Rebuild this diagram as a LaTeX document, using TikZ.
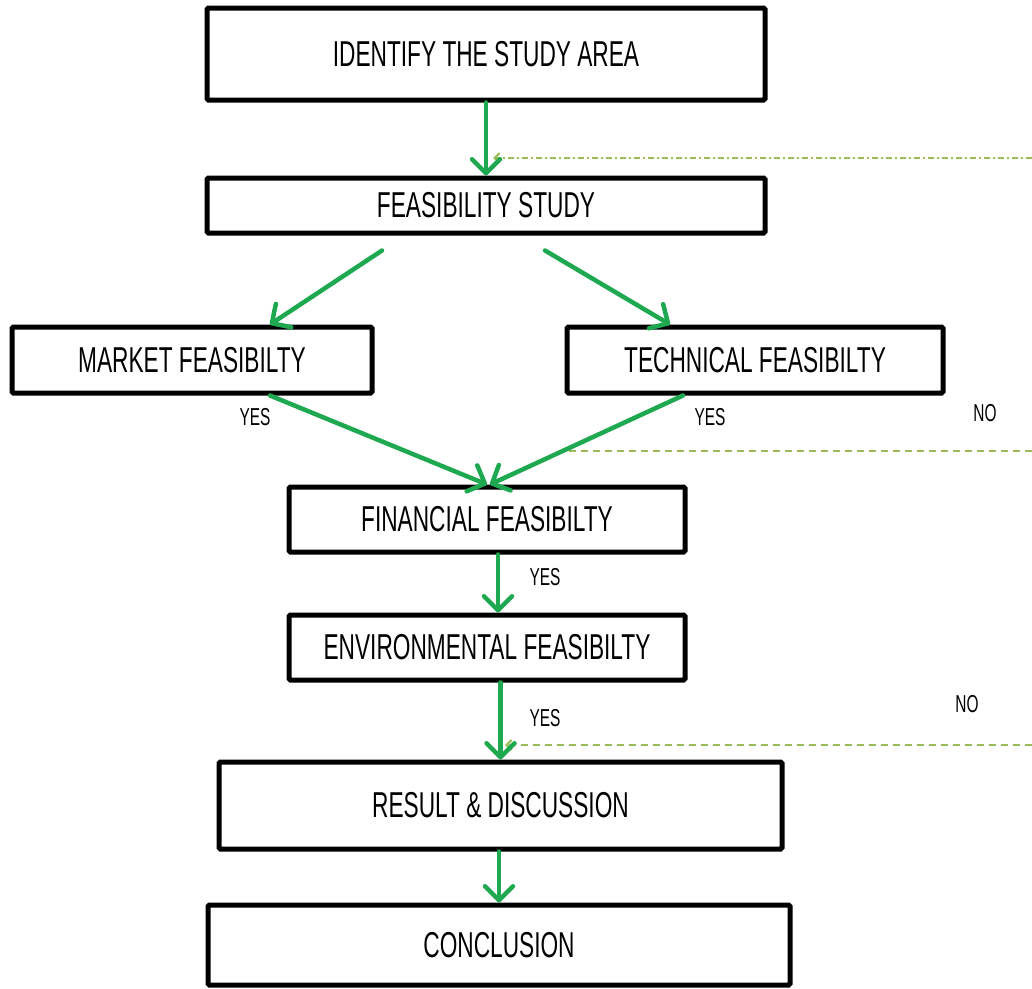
\documentclass[tikz,border=0pt]{standalone}
\usepackage{fontspec}
\setmainfont{Liberation Sans}[FakeStretch=0.63]
\usetikzlibrary{arrows.meta,calc}
\definecolor{flowgreen}{RGB}{30,168,80}
\definecolor{backgreen}{RGB}{155,187,89}
\begin{document}
\begin{tikzpicture}[x=1pt,y=-1pt,
  box/.style={draw=black, line width=5pt, rounded corners=1.5pt, fill=white, inner sep=0pt,
    font=\fontsize{36}{42}\selectfont, anchor=center},
  flow/.style={draw=flowgreen, line width=4.5pt, line cap=round,
    -{Straight Barb[length=14pt,width=28pt,round]}},
  back/.style={draw=backgreen, line width=2.2pt},
  backtip/.style={-{Straight Barb[length=5pt,width=10pt]}},
  ans/.style={font=\fontsize{24.5}{28}\selectfont, inner sep=0pt}]
\useasboundingbox (0,0) rectangle (1032,988);

% boxes
\node[box, minimum width=558pt, minimum height=92pt] (id) at (486,54) {IDENTIFY THE STUDY AREA};
\node[box, minimum width=558pt, minimum height=55pt] (fs) at (486,205.5) {FEASIBILITY STUDY};
\node[box, minimum width=360pt, minimum height=66pt] (mk) at (192,360) {MARKET FEASIBILTY};
\node[box, minimum width=376pt, minimum height=66pt] (tc) at (755,360) {TECHNICAL FEASIBILTY};
\node[box, minimum width=396pt, minimum height=65pt] (fn) at (487,519.5) {FINANCIAL FEASIBILTY};
\node[box, minimum width=396pt, minimum height=65pt] (ev) at (487,647.5) {ENVIRONMENTAL FEASIBILTY};
\node[box, minimum width=563pt, minimum height=87pt] (rs) at (500.5,805.5) {RESULT \& DISCUSSION};
\node[box, minimum width=582pt, minimum height=80pt] (cn) at (499,945) {CONCLUSION};

% feedback lines
\coordinate (b1r) at (1032,158);
\coordinate (b1l) at (493,158);
\coordinate (b2r) at (1032,451);
\coordinate (b2l) at (568,451);
\coordinate (b3r) at (1032,745);
\coordinate (b3l) at (505,745);
\draw[back, backtip, dash pattern=on 6pt off 3pt on 2pt off 3pt] (b1r) -- (b1l);
\draw[back, dash pattern=on 7pt off 5pt] (b2r) -- (b2l);
\draw[back, backtip, dash pattern=on 7pt off 5pt] (b3r) -- (b3l);

% flow arrows
\draw[flow] (id.south) -- (fs.north);
\draw[flow] ([shift={(-104,15)}]fs.south) -- ([shift={(78,0)}]mk.north);
\draw[flow] ([shift={(59,15)}]fs.south) -- ([shift={(-85,0)}]tc.north);
\draw[flow] ([shift={(78,0)}]mk.south) -- (fn.north);
\draw[flow] ([shift={(-72,0)}]tc.south) -- ([shift={(3,0)}]fn.north);
\draw[flow] ([shift={(11,0)}]fn.south) -- ([shift={(11,0)}]ev.north);
\draw[flow] (ev.south -| rs.north) -- (rs.north);
\draw[flow] (rs.south -| cn.north) -- (cn.north);

% labels
\node[ans] (y1) at (255,417) {YES};
\node[ans] (y2) at (710,417) {YES};
\node[ans] (n1) at (985,413) {NO};
\node[ans] (y3) at (545,577) {YES};
\node[ans] (y4) at (545,718) {YES};
\node[ans] (n2) at (967,704) {NO};
\end{tikzpicture}
\end{document}
